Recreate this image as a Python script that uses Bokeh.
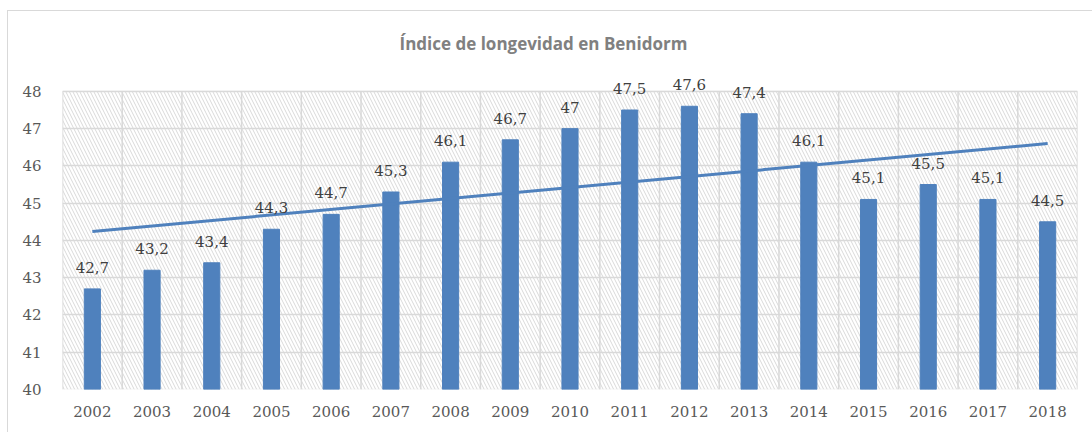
from bokeh.plotting import figure
from bokeh.models import (ColumnDataSource, Label, BoxAnnotation, FixedTicker,
                          Title, InlineStyleSheet)
from bokeh.embed import file_html
from bokeh.resources import INLINE

years = ["2002", "2003", "2004", "2005", "2006", "2007", "2008", "2009", "2010",
         "2011", "2012", "2013", "2014", "2015", "2016", "2017", "2018"]
values = [42.7, 43.2, 43.4, 44.3, 44.7, 45.3, 46.1, 46.7, 47.0,
          47.5, 47.6, 47.4, 46.1, 45.1, 45.5, 45.1, 44.5]
trend_years = ["2002", "2018"]
trend_values = [44.24, 46.60]
y_ticks = [40, 41, 42, 43, 44, 45, 46, 47, 48]

BLUE = "#4f81bd"
GRID = "#d9d9d9"
TEXT = "#595959"
SERIF = "'DejaVu Serif'"

n = len(years)
xs = list(range(n))
labels = [(f"{v:g}").replace(".", ",") for v in values]
src = ColumnDataSource(dict(x=xs, top=values))
y_min, y_max = y_ticks[0], y_ticks[-1]

# extra headroom above 48 so value labels are not clipped
p = figure(width=1092, height=432, output_backend="svg", toolbar_location=None,
           x_range=(-0.5, n - 0.5), y_range=(y_min, y_max + 0.56),
           min_border_left=62, min_border_top=70, min_border_right=15,
           min_border_bottom=43)
p.title = Title(text="Índice de longevidad en Benidorm", align="left",
                text_font="Open Sans", text_font_size="17px", text_font_style="bold",
                text_color="#808080", standoff=31, offset=337)

p.stylesheets = [InlineStyleSheet(css="""
:host { position: relative; }
:host::after { content: ""; position: absolute; left: 7px; top: 10px;
  right: -20px; bottom: -20px; border: 1.5px solid #d9d9d9;
  pointer-events: none; }
""")]

# hatched plot-area background with border
p.add_layout(BoxAnnotation(bottom=y_min, top=y_max,
                           fill_color="white", fill_alpha=1.0,
                           line_color=GRID, line_width=1.5,
                           hatch_pattern="\\", hatch_color=GRID, hatch_scale=7,
                           hatch_weight=1, level="image"))

# vertical grid lines at category boundaries, limited to plot area
bounds = [i - 0.5 for i in range(n + 1)]
vg = p.segment(x0=bounds, x1=bounds, y0=[y_min] * len(bounds), y1=[y_max] * len(bounds),
               line_color=GRID, line_width=1.5)
vg.level = "underlay"
p.xgrid.grid_line_color = None

p.vbar(x="x", top="top", bottom=y_min, width=0.27, color=BLUE, source=src)
p.line([years.index(t) for t in trend_years], trend_values, color=BLUE, line_width=3)

for x, v, lab in zip(xs, values, labels):
    p.add_layout(Label(x=x, y=v, text=lab, y_offset=16,
                       text_align="center", text_baseline="bottom",
                       text_font=SERIF, text_font_size="15px",
                       text_color="#404040"))

p.xaxis.ticker = FixedTicker(ticks=xs)
p.xaxis.major_label_overrides = {i: y for i, y in enumerate(years)}
p.yaxis.ticker = FixedTicker(ticks=y_ticks)
for ax in (p.xaxis, p.yaxis):
    ax.axis_line_color = None
    ax.major_tick_line_color = None
    ax.minor_tick_line_color = None
    ax.major_label_text_font = SERIF
    ax.major_label_text_font_size = "15px"
    ax.major_label_text_color = TEXT
p.xaxis.major_label_standoff = 10
p.yaxis.major_label_standoff = 15

p.ygrid.ticker = FixedTicker(ticks=y_ticks)
p.ygrid.grid_line_color = GRID
p.ygrid.grid_line_width = 1.5
p.outline_line_color = None
p.background_fill_color = "white"
p.border_fill_color = "white"

open("out.html", "w").write(file_html(p, INLINE))
